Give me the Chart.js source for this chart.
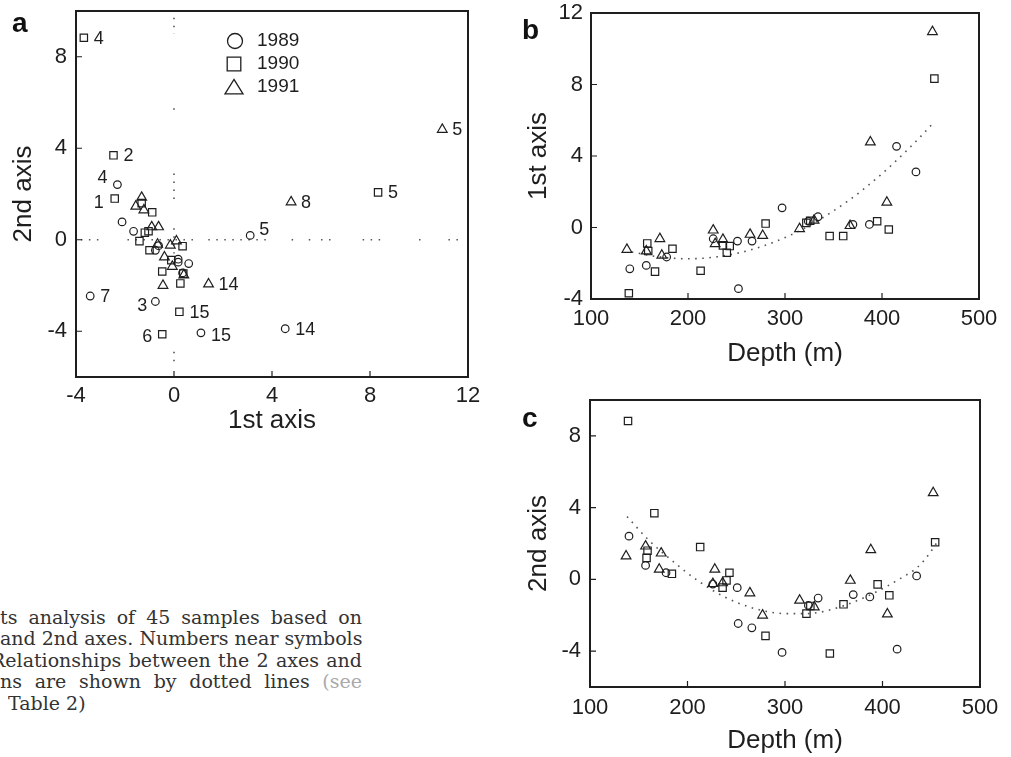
<!DOCTYPE html>
<html>
<head>
<meta charset="utf-8">
<script src="https://cdn.jsdelivr.net/npm/chart.js@4.4.0/dist/chart.umd.min.js"></script>
<style>
body { margin: 0; background: #fff; width: 1011px; height: 757px; overflow: hidden; position: relative; }
canvas { position: absolute; }
.tag { position: absolute; font-family: "Liberation Sans", Arial, sans-serif; font-weight: bold; font-size: 28px; line-height: 28px; color: #111; }
.cap { position: absolute; left: 0; width: 362px; height: 22px; line-height: 21.5px; overflow: hidden; white-space: nowrap;
       font-family: "DejaVu Serif", serif; font-size: 19px; color: #333;
       text-align: justify; text-align-last: justify; }
</style>
</head>
<body>
<canvas id="panelA" width="500" height="440" style="left:0;top:0"></canvas>
<canvas id="panelB" width="491" height="380" style="left:520px;top:0"></canvas>
<canvas id="panelC" width="491" height="377" style="left:520px;top:380px"></canvas>

<div class="tag" style="left:12px;top:9px">a</div>
<div class="tag" style="left:522px;top:16px">b</div>
<div class="tag" style="left:522px;top:404px">c</div>

<div class="cap" style="top:607px">ts analysis of 45 samples based on</div>
<div class="cap" style="top:628px">and 2nd axes. Numbers near symbols</div>
<div class="cap" style="top:650px;left:-9px;width:371px">Relationships between the 2 axes and</div>
<div class="cap" style="top:671px">ns are shown by dotted lines <span style="color:#aaa">(see</span></div>
<div class="cap" style="top:693px;left:8px;width:auto;text-align:left;text-align-last:left">Table 2)</div>

<script>
// 1989 samples (circles): depth (m), 1st axis, 2nd axis, station number shown in panel a
const depth89 = [140, 157, 178, 226, 251, 252, 266, 297, 324, 334, 370, 387, 415, 435];
const ax1_89 = [-2.31, -2.12, -1.65, -0.63, -0.76, -3.42, -0.76, 1.10, 0.35, 0.60, 0.17, 0.17, 4.54, 3.11];
const ax2_89 = [2.41, 0.78, 0.37, -0.26, -0.46, -2.46, -2.70, -4.07, -1.45, -1.04, -0.85, -0.98, -3.89, 0.19];
const tag89 = ['4', '', '', '', '', '7', '3', '15', '', '', '', '', '14', '5'];

// 1990 samples (squares)
const depth90 = [139, 158, 159, 166, 184, 213, 236, 240, 243, 280, 322, 326, 346, 360, 395, 407, 454];
const ax1_90 = [-3.68, -0.89, -1.32, -2.47, -1.19, -2.42, -1.00, -1.41, -1.04, 0.22, 0.26, 0.38, -0.48, -0.48, 0.35, -0.11, 8.33];
const ax2_90 = [8.83, 1.20, 1.60, 3.69, 0.31, 1.80, -0.46, -0.06, 0.37, -3.15, -1.91, -1.48, -4.13, -1.39, -0.28, -0.89, 2.07];
const tag90 = ['4', '', '', '2', '', '1', '', '', '', '15', '', '', '6', '', '', '', '5'];

// 1991 samples (triangles)
const depth91 = [137, 157, 171, 173, 226, 228, 236, 264, 277, 315, 330, 367, 388, 405, 452];
const ax1_91 = [-1.23, -1.32, -0.63, -1.56, -0.15, -0.91, -0.67, -0.39, -0.45, -0.07, 0.40, 0.10, 4.78, 1.41, 10.95];
const ax2_91 = [1.30, 1.85, 0.56, 1.46, -0.24, 0.56, -0.20, -0.76, -2.00, -1.17, -1.54, -0.06, 1.65, -1.94, 4.82];
const tag91 = ['', '', '', '', '', '', '', '', '', '', '', '', '8', '14', '5'];

const years = ['1989', '1990', '1991'];

// tick labels
const aXTicks = [-4, 0, 4, 8, 12];
const aYTicks = [-4, 0, 4, 8];
const depthTicks = [100, 200, 300, 400, 500];
const bYTicks = [-4, 0, 4, 8, 12];
const cYTicks = [-4, 0, 4, 8];

const fitBDepth = [142, 170, 200, 230, 260, 290, 320, 350, 380, 410, 440, 452];
const fitBAxis1 = [-1.37, -1.64, -1.75, -1.64, -1.32, -0.79, -0.04, 0.93, 2.10, 3.50, 5.10, 5.80];
const fitCDepth = [138, 160, 186, 210, 238, 269, 302, 322, 345, 379, 400, 418, 436, 448, 456];
const fitCAxis2 = [3.50, 2.20, 0.96, -0.05, -0.98, -1.63, -1.91, -1.91, -1.72, -1.07, -0.52, 0.04, 0.68, 1.43, 2.07];

// visible stretches of the dotted zero lines in panel a
const hZeroSegs = [[-3.8, -3.0], [-1.9, 1.0], [1.4, 3.8], [4.8, 4.9], [5.5, 5.6], [6.0, 6.6], [7.7, 8.6], [10.0, 10.1], [11.2, 11.6]];
const vZeroSegs = [[9.7, 9.0], [5.75, 5.6], [2.9, 1.6], [0.5, -0.6], [-4.9, -5.6]];

// ---- styling ----
const INK = '#1e1e1e';
const DOT = '#555';
const FONT = '"Liberation Sans", Arial, Helvetica, sans-serif';
const symbols = ['circle', 'rect', 'triangle'];
const symbolRadius = [3.8, 5.2, 5.6];
const labelOffsets = {
    '1989:4': [-10, -7], '1990:1': [-11, 4], '1989:3': [-8, 5], '1990:6': [-10, 3],
    '1989:15': [10, 3], '1989:5': [9, -5]
};

const series = [
    { depth: depth89, ax1: ax1_89, ax2: ax2_89, tags: tag89 },
    { depth: depth90, ax1: ax1_90, ax2: ax2_90, tags: tag90 },
    { depth: depth91, ax1: ax1_91, ax2: ax2_91, tags: tag91 }
];

function pts(xs, ys) {
    return xs.map((v, i) => ({ x: v, y: ys[i] }));
}

function yearSets(xKey, yKey, withTags) {
    return series.map((s, i) => ({
        label: years[i],
        data: pts(s[xKey], s[yKey]),
        pointStyle: symbols[i],
        pointRadius: symbolRadius[i],
        pointHoverRadius: symbolRadius[i],
        pointBorderWidth: 1.2,
        pointBorderColor: INK,
        pointBackgroundColor: 'rgba(0,0,0,0)',
        showLine: false,
        clip: false,
        pointTags: withTags ? s.tags : null
    }));
}

function dotted(data, dash, smooth) {
    return {
        data: data,
        showLine: true,
        pointRadius: 0,
        pointHoverRadius: 0,
        borderColor: DOT,
        borderWidth: 1.6,
        borderDash: dash,
        cubicInterpolationMode: smooth ? 'monotone' : 'default',
        tension: 0,
        fill: false,
        clip: false
    };
}

function axis(min, max, ticks, title, o) {
    return {
        type: 'linear',
        min: min,
        max: max,
        afterBuildTicks: s => { s.ticks = ticks.map(v => ({ value: v })); },
        afterFit: s => {
            if (s.isHorizontal()) s.height = o.size; else s.width = o.size;
            s.paddingTop = s.paddingBottom = s.paddingLeft = s.paddingRight = 0;
        },
        grid: { display: false, drawTicks: false },
        border: { display: false },
        ticks: { color: INK, font: { family: FONT, size: 22 }, padding: o.pad, autoSkip: false, maxRotation: 0 },
        title: { display: true, text: title, color: INK, font: { family: FONT, size: 26 }, padding: o.tpad }
    };
}

const framePlugin = {
    id: 'frame',
    afterDatasetsDraw(chart) {
        const { ctx, chartArea: a, scales: { x, y } } = chart;
        ctx.save();
        ctx.strokeStyle = INK;
        ctx.lineWidth = 2;
        ctx.strokeRect(a.left, a.top, a.right - a.left, a.bottom - a.top);
        ctx.lineWidth = 1.2;
        ctx.beginPath();
        x.ticks.forEach(t => {
            const px = x.getPixelForValue(t.value);
            ctx.moveTo(px, a.bottom);
            ctx.lineTo(px, a.bottom - 6);
        });
        y.ticks.forEach(t => {
            const py = y.getPixelForValue(t.value);
            ctx.moveTo(a.left, py);
            ctx.lineTo(a.left + 6, py);
        });
        ctx.stroke();
        ctx.restore();
    }
};

const tagPlugin = {
    id: 'pointTags',
    afterDatasetsDraw(chart) {
        const ctx = chart.ctx;
        ctx.save();
        ctx.font = '18px ' + FONT;
        ctx.fillStyle = INK;
        ctx.textBaseline = 'middle';
        chart.data.datasets.forEach((ds, di) => {
            if (!ds.pointTags) return;
            const meta = chart.getDatasetMeta(di);
            ds.pointTags.forEach((txt, i) => {
                if (!txt) return;
                const el = meta.data[i];
                const off = labelOffsets[ds.label + ':' + txt] || [10, 1];
                ctx.textAlign = off[0] < 0 ? 'right' : 'left';
                ctx.fillText(txt, el.x + off[0], el.y + off[1]);
            });
        });
        ctx.restore();
    }
};

function drawSymbol(ctx, style, x, y, r) {
    ctx.beginPath();
    if (style === 'circle') {
        ctx.arc(x, y, r, 0, Math.PI * 2);
    } else if (style === 'rect') {
        ctx.rect(x - r, y - r, r * 2, r * 2);
    } else {
        ctx.moveTo(x, y - r * 1.05);
        ctx.lineTo(x + r * 1.25, y + r * 0.95);
        ctx.lineTo(x - r * 1.25, y + r * 0.95);
        ctx.closePath();
    }
    ctx.stroke();
}

const keyPlugin = {
    id: 'yearKey',
    afterDraw(chart) {
        const ctx = chart.ctx;
        const rows = [[235, 41, 7.5], [234, 64, 6.8], [234, 87, 7.2]];
        ctx.save();
        ctx.strokeStyle = INK;
        ctx.lineWidth = 1.3;
        ctx.fillStyle = INK;
        ctx.font = '19px ' + FONT;
        ctx.textBaseline = 'middle';
        ctx.textAlign = 'left';
        years.forEach((yr, i) => {
            const [x, y, r] = rows[i];
            drawSymbol(ctx, symbols[i], x, y, r);
            ctx.fillText(yr, 257, y);
        });
        ctx.restore();
    }
};

const baseOptions = {
    responsive: false,
    animation: false,
    events: [],
    plugins: { legend: { display: false }, tooltip: { enabled: false } }
};

// panel a: 1st axis vs 2nd axis
const zeroLines = hZeroSegs.map(s => dotted([{ x: s[0], y: 0 }, { x: s[1], y: 0 }], [1.5, 6.5], false))
    .concat(vZeroSegs.map(s => dotted([{ x: 0, y: s[0] }, { x: 0, y: s[1] }], [1.5, 6.5], false)));

new Chart(document.getElementById('panelA'), {
    type: 'scatter',
    data: { datasets: yearSets('ax1', 'ax2', true).concat(zeroLines) },
    options: Object.assign({}, baseOptions, {
        layout: { padding: { left: 0, top: 11, right: 32, bottom: 0 } },
        scales: {
            x: axis(-4, 12, aXTicks, '1st axis', { size: 63, pad: 6, tpad: { top: 0, bottom: 3.4 } }),
            y: axis(-6, 10, aYTicks, '2nd axis', { size: 76, pad: 9, tpad: { top: 8.4, bottom: 0 } })
        }
    }),
    plugins: [framePlugin, tagPlugin, keyPlugin]
});

// panel b: depth vs 1st axis
new Chart(document.getElementById('panelB'), {
    type: 'scatter',
    data: { datasets: yearSets('depth', 'ax1', false).concat([dotted(pts(fitBDepth, fitBAxis1), [1.6, 5.5], true)]) },
    options: Object.assign({}, baseOptions, {
        layout: { padding: { left: 0, top: 13, right: 32, bottom: 0 } },
        scales: {
            x: axis(100, 500, depthTicks, 'Depth (m)', { size: 81, pad: 6.8, tpad: { top: 0, bottom: 10.4 } }),
            y: axis(-4, 12, bYTicks, '1st axis', { size: 71, pad: 8, tpad: { top: 3.4, bottom: 0 } })
        }
    }),
    plugins: [framePlugin]
});

// panel c: depth vs 2nd axis
new Chart(document.getElementById('panelC'), {
    type: 'scatter',
    data: { datasets: yearSets('depth', 'ax2', false).concat([dotted(pts(fitCDepth, fitCAxis2), [1.6, 5.5], true)]) },
    options: Object.assign({}, baseOptions, {
        layout: { padding: { left: 0, top: 20, right: 31, bottom: 0 } },
        scales: {
            x: axis(100, 500, depthTicks, 'Depth (m)', { size: 70, pad: 7.8, tpad: { top: 0, bottom: 0.4 } }),
            y: axis(-6, 10, cYTicks, '2nd axis', { size: 70, pad: 9, tpad: { top: 3.4, bottom: 0 } })
        }
    }),
    plugins: [framePlugin]
});
</script>
</body>
</html>
